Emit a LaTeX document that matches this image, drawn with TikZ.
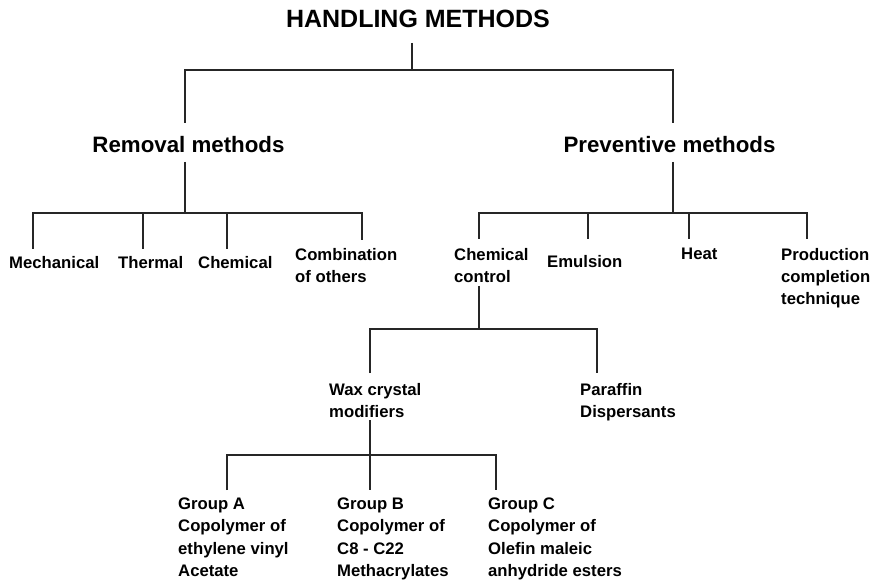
\documentclass[tikz,border=0pt]{standalone}
\usepackage{fontspec}
\setmainfont{Liberation Sans}
\begin{document}
\begin{tikzpicture}[x=1pt,y=-1pt,
  lbl/.style={inner sep=0pt, anchor=north west, align=left, font=\fontsize{16.7}{22.3}\selectfont\bfseries},
  lbs/.style={inner sep=0pt, anchor=base west, font=\fontsize{16.7}{22.3}\selectfont\bfseries},
  head/.style={inner sep=0pt, anchor=base, font=\fontsize{22.3}{26}\selectfont\bfseries},
  ttl/.style={inner sep=0pt, anchor=base, font=\fontsize{25}{30}\selectfont\bfseries},
  conn/.style={line width=1.1pt, draw=black!85}]
\useasboundingbox[fill=white] (0,0) rectangle (884,580);

% texts
\node[ttl] (title) at (418,28) {HANDLING METHODS};
\node[head] (rem) at (188.5,153) {Removal methods};
\node[head] (prev) at (669.5,153) {Preventive methods};

\node[lbs] (mech) at (9,269) {Mechanical};
\node[lbs] (therm) at (118,269) {Thermal};
\node[lbs] (chem) at (198,269) {Chemical};
\node[lbl] (comb) at (295,247.8) {Combination\\of others};

\node[lbl] (cc) at (454,247.8) {Chemical\\control};
\node[lbs] (emul) at (547,268) {Emulsion};
\node[lbs] (heat) at (681,260) {Heat};
\node[lbl] (prod) at (781,247.8) {Production\\completion\\technique};

\node[lbl] (wax) at (329,382.8) {Wax crystal\\modifiers};
\node[lbl] (par) at (580,382.8) {Paraffin\\Dispersants};

\node[lbl] (ga) at (178,497.8) {Group A\\Copolymer of\\ethylene vinyl\\Acetate};
\node[lbl] (gb) at (337,497.8) {Group B\\Copolymer of\\C8 - C22\\Methacrylates};
\node[lbl] (gc) at (488,497.8) {Group C\\Copolymer of\\Olefin maleic\\anhydride esters};

% connector end points
\coordinate (tb) at (412,43);   \coordinate (bus1) at (412,70);
\coordinate (rt) at (185,123);  \coordinate (pt) at (673,123);

\coordinate (rb) at (185,162);  \coordinate (bus2) at (185,213);
\coordinate (m1) at (33,249);   \coordinate (m2) at (143,249);
\coordinate (m3) at (227,249);  \coordinate (m4) at (362,240);

\coordinate (pb) at (673,162);  \coordinate (bus3) at (673,213);
\coordinate (p1) at (479,239);  \coordinate (p2) at (588,239);
\coordinate (p3) at (689,239);  \coordinate (p4) at (807,239);

\coordinate (cb) at (479,286);  \coordinate (bus4) at (479,329);
\coordinate (w1) at (370,373);  \coordinate (w2) at (597,373);

\coordinate (wb) at (370,420);  \coordinate (bus5) at (370,455);
\coordinate (g1) at (227,490);  \coordinate (g2) at (370,490);
\coordinate (g3) at (496,490);

% connectors
\draw[conn] (tb) -- (bus1);
\draw[conn] (rt) |- (bus1) -| (pt);

\draw[conn] (rb) -- (bus2);
\draw[conn] (m1) |- (bus2) -| (m4);
\draw[conn] (m2) -- (m2 |- bus2);
\draw[conn] (m3) -- (m3 |- bus2);

\draw[conn] (pb) -- (bus3);
\draw[conn] (p1) |- (bus3) -| (p4);
\draw[conn] (p2) -- (p2 |- bus3);
\draw[conn] (p3) -- (p3 |- bus3);

\draw[conn] (cb) -- (bus4);
\draw[conn] (w1) |- (bus4) -| (w2);

\draw[conn] (wb) -- (g2);
\draw[conn] (g1) |- (bus5) -| (g3);
\end{tikzpicture}
\end{document}
